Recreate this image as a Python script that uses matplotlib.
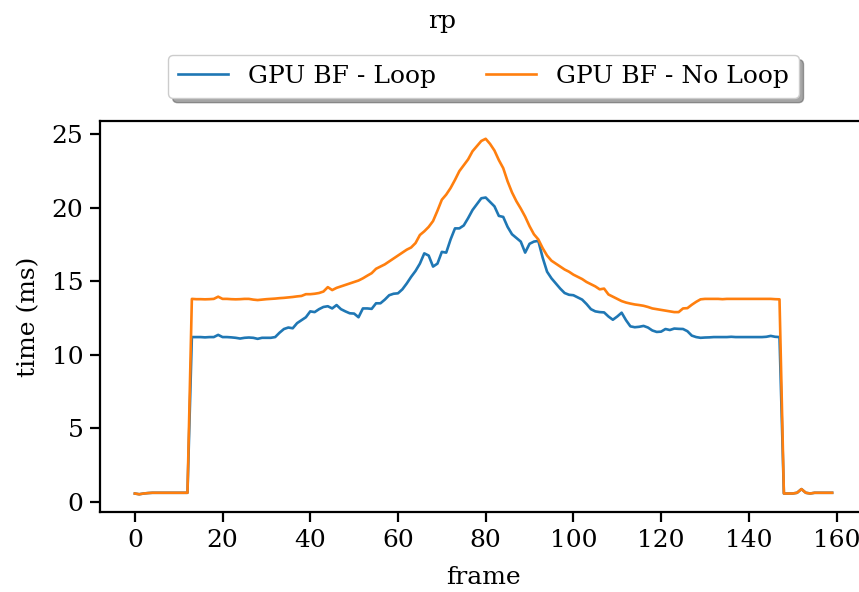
import matplotlib
matplotlib.use("Agg")
import matplotlib.pyplot as plt
import numpy as np

# frame times in ms
low_start = [0.55, 0.5, 0.55, 0.58, 0.6, 0.6, 0.6, 0.6, 0.6, 0.6, 0.6, 0.6, 0.6]
low_end = [0.55, 0.55, 0.55, 0.6, 0.85, 0.6, 0.55, 0.6, 0.6, 0.6, 0.6, 0.6]

loop_mid = [
    11.2, 11.2, 11.2, 11.18, 11.2, 11.2, 11.35, 11.2, 11.2, 11.18,   # 13-22
    11.15, 11.1, 11.15, 11.17, 11.15, 11.08, 11.15, 11.15, 11.15, 11.2,  # 23-32
    11.5, 11.75, 11.85, 11.8, 12.15, 12.35, 12.55, 12.95, 12.9, 13.1,  # 33-42
    13.25, 13.3, 13.15, 13.38, 13.1, 12.95, 12.82, 12.8, 12.55, 13.15,  # 43-52
    13.15, 13.12, 13.5, 13.5, 13.75, 14.05, 14.15, 14.18, 14.45, 14.85,  # 53-62
    15.3, 15.7, 16.2, 16.9, 16.75, 16.0, 16.2, 17.0, 16.95, 17.85,  # 63-72
    18.6, 18.6, 18.8, 19.3, 19.85, 20.25, 20.65, 20.7, 20.4, 20.1,  # 73-82
    19.45, 19.38, 18.7, 18.2, 17.95, 17.7, 16.95, 17.55, 17.7, 17.75,  # 83-92
    16.6, 15.65, 15.2, 14.85, 14.5, 14.2, 14.08, 14.05, 13.9, 13.75,  # 93-102
    13.45, 13.1, 12.95, 12.9, 12.88, 12.6, 12.38, 12.6, 12.86, 12.35,  # 103-112
    11.93, 11.87, 11.9, 11.96, 11.85, 11.65, 11.55, 11.57, 11.75, 11.68,  # 113-122
    11.78, 11.76, 11.75, 11.6, 11.3, 11.2, 11.15, 11.17, 11.18, 11.2,  # 123-132
    11.2, 11.2, 11.2, 11.22, 11.2, 11.2, 11.2, 11.2, 11.2, 11.2,  # 133-142
    11.2, 11.22, 11.28, 11.22, 11.2,  # 143-147
]

noloop_mid = [
    13.8, 13.78, 13.78, 13.77, 13.78, 13.8, 13.95, 13.8, 13.8, 13.78,  # 13-22
    13.77, 13.78, 13.8, 13.8, 13.75, 13.72, 13.75, 13.78, 13.8, 13.82,  # 23-32
    13.85, 13.87, 13.9, 13.93, 13.97, 14.0, 14.12, 14.12, 14.15, 14.2,  # 33-42
    14.3, 14.6, 14.4, 14.55, 14.65, 14.75, 14.85, 14.95, 15.05, 15.2,  # 43-52
    15.38, 15.55, 15.85, 16.0, 16.15, 16.35, 16.55, 16.75, 16.95, 17.15,  # 53-62
    17.3, 17.6, 18.15, 18.4, 18.7, 19.1, 19.8, 20.55, 20.9, 21.35,  # 63-72
    21.9, 22.5, 22.9, 23.3, 23.85, 24.2, 24.55, 24.7, 24.35, 23.9,  # 73-82
    23.25, 22.7, 21.8, 21.05, 20.45, 19.95, 19.4, 18.75, 18.2, 17.85,  # 83-92
    17.25, 16.75, 16.4, 16.2, 16.0, 15.8, 15.65, 15.45, 15.3, 15.15,  # 93-102
    14.95, 14.8, 14.65, 14.45, 14.5, 14.1, 13.95, 13.8, 13.65, 13.55,  # 103-112
    13.48, 13.42, 13.38, 13.33, 13.25, 13.15, 13.1, 13.05, 13.0, 12.95,  # 113-122
    12.9, 12.9, 13.15, 13.17, 13.4, 13.6, 13.77, 13.8, 13.8, 13.8,  # 123-132
    13.8, 13.78, 13.8, 13.8, 13.8, 13.8, 13.8, 13.8, 13.8, 13.8,  # 133-142
    13.8, 13.8, 13.8, 13.78, 13.77,  # 143-147
]

loop = np.array(low_start + loop_mid + low_end)
no_loop = np.array(low_start + noloop_mid + low_end)
frames = np.arange(len(loop))

plt.rcParams["font.family"] = "DejaVu Serif"
plt.rcParams["font.size"] = 18

fig = plt.figure(figsize=(8.59, 5.92), dpi=100)
ax = fig.add_axes([0.1164, 0.1351, 0.8929, 0.6605])

ax.plot(frames, loop, color="#1f77b4", lw=1.9, label="GPU BF - Loop")
ax.plot(frames, no_loop, color="#ff7f0e", lw=1.9, label="GPU BF - No Loop")

ax.set_xticks(np.arange(0, 161, 20))
ax.set_yticks(np.arange(0, 26, 5))
ax.set_xlabel("frame", labelpad=10)
ax.set_ylabel("time (ms)", labelpad=8)
ax.tick_params(length=7, width=1.6, pad=5)
for s in ax.spines.values():
    s.set_linewidth(1.6)

ax.legend(loc="upper center", bbox_to_anchor=(0.5, 1.1686), borderaxespad=0,
          ncol=2, shadow={"ox": 3.3, "oy": -3.3})
fig.text(0.5146, 0.953, "rp", ha="center", va="baseline")

fig.savefig("out.png", dpi=100)
